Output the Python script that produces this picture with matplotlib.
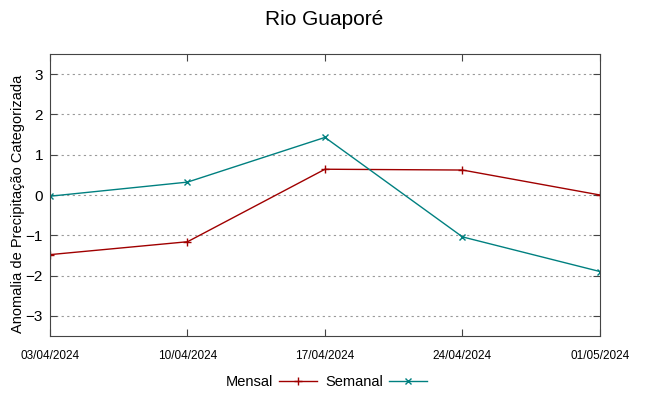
import numpy as np
import matplotlib.pyplot as plt

plt.rcParams['font.family'] = ['Liberation Sans', 'DejaVu Sans']

datas = ["03/04/2024", "10/04/2024", "17/04/2024", "24/04/2024", "01/05/2024"]
mensal = [-1.48, -1.16, 0.64, 0.62, 0.0]
semanal = [-0.03, 0.32, 1.43, -1.04, -1.90]

x = np.arange(len(datas))

fig = plt.figure(figsize=(6.49, 3.96), dpi=100)
ax = fig.add_axes([0.077, 0.1515, 0.8475, 0.7121])

l1, = ax.plot(x, mensal, color="#a00000", lw=1, marker="+", ms=6, mew=1)
l2, = ax.plot(x, semanal, color="#008080", lw=1, marker="x", ms=5, mew=1)

ax.set_xlim(0, len(datas) - 1)
ax.set_ylim(-3.5, 3.5)
ax.set_xticks(x)
ax.set_xticklabels(datas, fontsize=8.5)
ax.set_yticks([-3, -2, -1, 0, 1, 2, 3])
ax.tick_params(direction="in", top=True, right=True, length=5, color="#444444")
ax.tick_params(axis="x", pad=10)
ax.tick_params(axis="y", labelsize=11, pad=5)
ax.yaxis.grid(True, linestyle=(0, (2, 3)), color="#999999", lw=0.8)
for s in ax.spines.values():
    s.set_color("#444444")

fig.text(0.028, 0.485, "Anomalia de Precipitação Categorizada", rotation=90,
         ha="center", va="center", fontsize=10.5)

fig.text(0.5, 0.95, "Rio Guaporé", ha="center", va="center", fontsize=15)

fig.legend([l1, l2], ["Mensal", "Semanal"], ncol=2, loc="center",
           bbox_to_anchor=(0.503, 0.035), frameon=False, markerfirst=False,
           fontsize=10.5, handlelength=2.6, columnspacing=0.6, handletextpad=0.4)

fig.savefig("out.png", dpi=100)
